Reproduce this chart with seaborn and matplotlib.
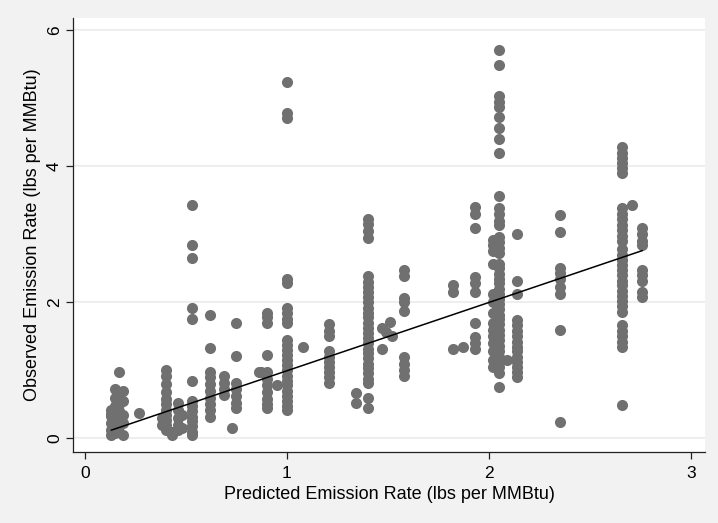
import numpy as np
import pandas as pd
import matplotlib
matplotlib.use("Agg")
import matplotlib.pyplot as plt
import seaborn as sns

# ---- data: predicted rate -> observed rates ----
y_013 = [0.42, 0.33, 0.22, 0.12, 0.05, 0.36]
y_015 = [0.72, 0.6, 0.48, 0.38, 0.25, 0.15, 0.08]
y_017 = [0.98, 0.65, 0.5, 0.4, 0.3, 0.2, 0.1]
y_019 = [0.7, 0.55, 0.35, 0.22, 0.05]
y_027 = [0.37]
y_038 = [0.3, 0.2]
y_040 = [1.0, 0.92, 0.8, 0.68, 0.58, 0.5, 0.42, 0.35, 0.27, 0.2, 0.12]
y_043 = [0.1, 0.05]
y_046 = [0.52, 0.42, 0.3, 0.2, 0.13]
y_048 = [0.15, 0.35]
y_053 = [3.43, 2.84, 2.65, 1.91, 1.76, 0.85, 0.55, 0.48, 0.4, 0.32, 0.25, 0.18, 0.1, 0.05]
y_062 = [1.82, 1.33, 0.98, 0.9, 0.8, 0.7, 0.6, 0.5, 0.42, 0.32]
y_069 = [0.92, 0.82, 0.72, 0.64]
y_073 = [0.15]
y_075 = [1.69, 1.21, 0.82, 0.72, 0.62, 0.52, 0.44]
y_086 = [0.97]
y_087 = [0.98]
y_090 = [1.85, 1.78, 1.7, 1.22, 0.98, 0.88, 0.78, 0.68, 0.58, 0.5, 0.45]
y_095 = [0.78]
y_100 = [5.24, 4.78, 4.71, 2.35, 2.28, 1.91, 1.85, 1.75, 1.69, 1.44, 1.38, 1.3,
         1.22, 1.15, 1.08, 1.0, 0.92, 0.85, 0.78, 0.7, 0.62, 0.55, 0.48, 0.42]
y_108 = [1.34]
y_121 = [1.68, 1.58, 1.5, 1.28, 1.2, 1.12, 1.05, 0.97, 0.9, 0.82]
y_134 = [0.66, 0.52]
y_140 = [3.23, 3.15, 3.05, 2.95, 2.38, 2.3, 2.22, 2.15, 2.08, 2.0, 1.92, 1.85,
         1.78, 1.7, 1.62, 1.55, 1.48, 1.4, 1.32, 1.25, 1.18, 1.1, 1.03, 0.96,
         0.88, 0.82, 0.59, 0.44]
y_147 = [1.63, 1.32]
y_149 = [1.56]
y_151 = [1.71]
y_152 = [1.51]
y_158 = [2.47, 2.38, 2.07, 2.0, 1.88, 1.19, 1.1, 1.0, 0.92]
y_182 = [2.25, 2.15, 1.32]
y_187 = [1.35]
y_193 = [3.4, 3.3, 3.1, 2.37, 2.28, 2.15, 1.69, 1.49, 1.4, 1.32]
y_202 = [2.92, 2.85, 2.76, 2.57, 2.13, 2.0, 1.84, 1.69, 1.6, 1.5, 1.4, 1.29, 1.15, 1.05]
y_205 = [5.71, 5.49, 5.04, 4.95, 4.87, 4.72, 4.56, 4.4, 4.19, 3.56, 3.38, 3.3,
         3.2, 3.13, 2.96, 2.88, 2.8, 2.72, 2.57, 2.5, 2.42, 2.35, 2.28, 2.2,
         2.12, 2.05, 1.97, 1.9, 1.82, 1.75, 1.68, 1.6, 1.52, 1.44, 1.36, 1.28,
         1.2, 1.12, 1.05, 0.96, 0.75]
y_209 = [1.15]
y_214 = [3.01, 2.32, 2.13, 1.74, 1.66, 1.58, 1.5, 1.42, 1.35, 1.28, 1.2, 1.12,
         1.05, 0.97, 0.9]
y_235 = [3.28, 3.03, 2.51, 2.43, 2.35, 2.22, 2.13, 1.59, 0.24]
y_266 = [4.28, 4.2, 4.12, 4.05, 3.97, 3.9, 3.38, 3.3, 3.22, 3.14, 3.06, 2.97,
         2.9, 2.78, 2.7, 2.62, 2.55, 2.47, 2.4, 2.32, 2.25, 2.17, 2.1, 2.02,
         1.94, 1.86, 1.66, 1.58, 1.5, 1.42, 1.35, 0.49]
y_271 = [3.43]
y_276 = [3.09, 3.0, 2.9, 2.84, 2.47, 2.4, 2.32, 2.15, 2.08]

predicted = [0.13, 0.15, 0.17, 0.19, 0.27, 0.38, 0.40, 0.43, 0.46, 0.48, 0.53,
             0.62, 0.69, 0.73, 0.75, 0.86, 0.87, 0.90, 0.95, 1.00, 1.08, 1.21,
             1.34, 1.40, 1.47, 1.49, 1.51, 1.52, 1.58, 1.82, 1.87, 1.93, 2.02,
             2.05, 2.09, 2.14, 2.35, 2.66, 2.71, 2.76]
observed = [y_013, y_015, y_017, y_019, y_027, y_038, y_040, y_043, y_046, y_048,
            y_053, y_062, y_069, y_073, y_075, y_086, y_087, y_090, y_095, y_100,
            y_108, y_121, y_134, y_140, y_147, y_149, y_151, y_152, y_158, y_182,
            y_187, y_193, y_202, y_205, y_209, y_214, y_235, y_266, y_271, y_276]

# fitted line
fit_intercept = -0.01
fit_slope = 1.004

x_ticks = [0, 1, 2, 3]
y_ticks = [0, 2, 4, 6]
x_label = "Predicted Emission Rate (lbs per MMBtu)"
y_label = "Observed Emission Rate (lbs per MMBtu)"

rows = [(px, oy) for px, ys in zip(predicted, observed) for oy in ys]
df = pd.DataFrame(rows, columns=["predicted", "observed"])
line_x = np.array([df["predicted"].min(), df["predicted"].max()])
line_df = pd.DataFrame({"predicted": line_x, "fit": fit_intercept + fit_slope * line_x})

# ---- drawing ----
sns.set_theme(style="white")
plt.rcParams["font.family"] = ["Liberation Sans", "DejaVu Sans"]

fig = plt.figure(figsize=(7.18, 5.23), dpi=100, facecolor="#f2f2f2")
ax = fig.add_axes([73 / 718, 1 - 452 / 523, (705 - 73) / 718, (452 - 18) / 523])
ax.set_facecolor("white")

sns.scatterplot(data=df, x="predicted", y="observed", ax=ax, color="#707070",
                s=64, linewidth=0, alpha=1, zorder=3)
sns.lineplot(data=line_df, x="predicted", y="fit", ax=ax, color="black",
             linewidth=1.1, zorder=4)

ax.set_xlim(-0.059, 3.07)
ax.set_ylim(-0.2, 6.18)
ax.set_xticks(x_ticks)
ax.set_yticks(y_ticks)
ax.set_xticklabels([str(t) for t in x_ticks])
ax.set_yticklabels([str(t) for t in y_ticks], rotation=90, va="center")
ax.yaxis.grid(True, color="#eaeaea", linewidth=1.1, zorder=0)
ax.xaxis.grid(False)
ax.set_axisbelow(True)

for side in ["top", "right"]:
    ax.spines[side].set_visible(False)
for side in ["left", "bottom"]:
    ax.spines[side].set_color("#222222")
    ax.spines[side].set_linewidth(0.9)

ax.tick_params(axis="both", which="major", direction="out", length=5, width=0.9,
               color="#222222", labelsize=12.5, labelcolor="black",
               left=True, bottom=True)
ax.tick_params(axis="x", pad=5)
ax.tick_params(axis="y", pad=3)
ax.set_xlabel(x_label, fontsize=13, color="black", labelpad=4)
ax.set_ylabel(y_label, fontsize=13, color="black", labelpad=4)

fig.savefig("out.png", dpi=100, facecolor=fig.get_facecolor())
